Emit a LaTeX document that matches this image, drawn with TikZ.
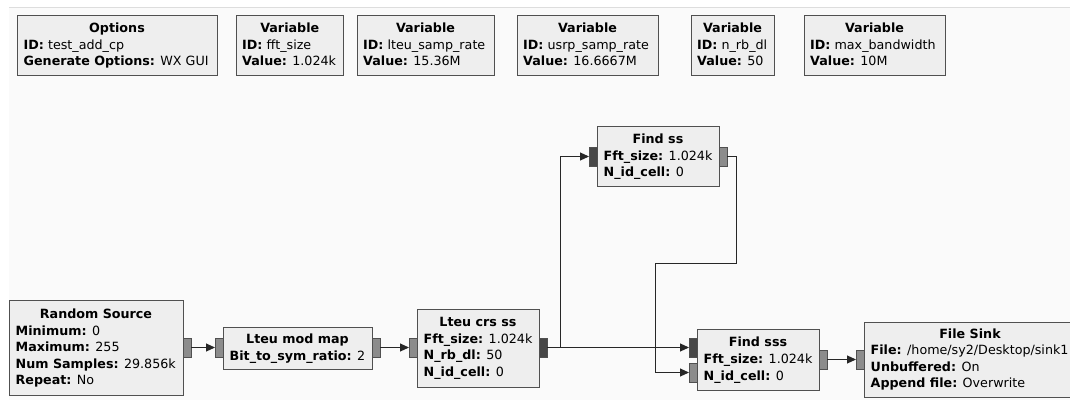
\documentclass[tikz,border=0pt]{standalone}
\usepackage{fontspec}
\setmainfont{DejaVu Sans}
\usetikzlibrary{arrows.meta}
\definecolor{canvas}{HTML}{FAFAFA}
\definecolor{blockfill}{HTML}{EEEEEE}
\definecolor{blockline}{HTML}{505050}
\definecolor{portdark}{HTML}{474747}
\definecolor{portlight}{HTML}{8C8C8C}
\definecolor{frameline}{HTML}{DDDDDD}
\newcommand{\kv}[2]{\textbf{#1:} #2}
\begin{document}
\begin{tikzpicture}[x=1pt,y=-1pt,
  blockbox/.style={draw=blockline, fill=blockfill, line width=1pt, inner sep=0pt, outer sep=0pt, anchor=north west},
  titletext/.style={font=\fontsize{12.7}{15}\selectfont\bfseries, anchor=base, inner sep=0pt},
  param/.style={font=\fontsize{12.7}{15}\selectfont, anchor=base west, inner sep=0pt},
  portbase/.style={draw=blockline, line width=0.8pt, inner sep=0pt, outer sep=0pt, minimum width=8pt, minimum height=19pt, anchor=north west},
  portd/.style={portbase, fill=portdark},
  portl/.style={portbase, fill=portlight},
  conn/.style={draw=black!85, line width=1pt, -{Triangle[length=9pt,width=8pt]}}
]
\useasboundingbox (0,0) rectangle (1070,399);
\clip (0,0) rectangle (1070,399);
\fill[white] (0,0) rectangle (1070,399);
\fill[canvas] (9,7) rectangle (1075,405);
\draw[frameline, line width=1pt] (9,7) -- (1075,7);

% Options
\node[blockbox, minimum width=200pt, minimum height=60.5pt] (opt) at (17,15) {};
\node[titletext] (opt-t) at (117,32.5) {Options};
\node[param] (opt-1) at (23.5,49.2) {\kv{ID}{test\_add\_cp}};
\node[param] (opt-2) at (23.5,65.8) {\kv{Generate Options}{WX GUI}};

% Variables
\node[blockbox, minimum width=107.5pt, minimum height=60.5pt] (v1) at (236,15) {};
\node[titletext] (v1-t) at (289.75,32.5) {Variable};
\node[param] (v1-1) at (242,49.2) {\kv{ID}{fft\_size}};
\node[param] (v1-2) at (242,65.8) {\kv{Value}{1.024k}};

\node[blockbox, minimum width=137pt, minimum height=60.5pt] (v2) at (357,15) {};
\node[titletext] (v2-t) at (425.5,32.5) {Variable};
\node[param] (v2-1) at (363,49.2) {\kv{ID}{lteu\_samp\_rate}};
\node[param] (v2-2) at (363,65.8) {\kv{Value}{15.36M}};

\node[blockbox, minimum width=141pt, minimum height=60.5pt] (v3) at (517,15) {};
\node[titletext] (v3-t) at (587.5,32.5) {Variable};
\node[param] (v3-1) at (523,49.2) {\kv{ID}{usrp\_samp\_rate}};
\node[param] (v3-2) at (523,65.8) {\kv{Value}{16.6667M}};

\node[blockbox, minimum width=83pt, minimum height=60.5pt] (v4) at (691,15) {};
\node[titletext] (v4-t) at (732.5,32.5) {Variable};
\node[param] (v4-1) at (697,49.2) {\kv{ID}{n\_rb\_dl}};
\node[param] (v4-2) at (697,65.8) {\kv{Value}{50}};

\node[blockbox, minimum width=141pt, minimum height=60.5pt] (v5) at (804,15) {};
\node[titletext] (v5-t) at (874.5,32.5) {Variable};
\node[param] (v5-1) at (810,49.2) {\kv{ID}{max\_bandwidth}};
\node[param] (v5-2) at (810,65.8) {\kv{Value}{10M}};

% Random Source
\node[blockbox, minimum width=174pt, minimum height=95pt] (rs) at (9,300) {};
\node[titletext] (rs-t) at (96,318.3) {Random Source};
\node[param] (rs-1) at (15.5,335) {\kv{Minimum}{0}};
\node[param] (rs-2) at (15.5,351.6) {\kv{Maximum}{255}};
\node[param] (rs-3) at (15.5,368.2) {\kv{Num Samples}{29.856k}};
\node[param] (rs-4) at (15.5,384.8) {\kv{Repeat}{No}};
\node[portl] (rs-o) at (183,338) {};

% Lteu mod map
\node[blockbox, minimum width=149pt, minimum height=42pt] (mm) at (223,327) {};
\node[titletext] (mm-t) at (297.5,343.5) {Lteu mod map};
\node[param] (mm-1) at (229.5,360) {\kv{Bit\_to\_sym\_ratio}{2}};
\node[portl] (mm-i) at (215,338) {};
\node[portl] (mm-o) at (372,338) {};

% Lteu crs ss
\node[blockbox, minimum width=122pt, minimum height=78pt] (crs) at (417,309) {};
\node[titletext] (crs-t) at (478,326) {Lteu crs ss};
\node[param] (crs-1) at (423.5,343) {\kv{Fft\_size}{1.024k}};
\node[param] (crs-2) at (423.5,359.6) {\kv{N\_rb\_dl}{50}};
\node[param] (crs-3) at (423.5,376.2) {\kv{N\_id\_cell}{0}};
\node[portl] (crs-i) at (409,338) {};
\node[portd] (crs-o) at (539,338) {};

% Find ss
\node[blockbox, minimum width=122pt, minimum height=60pt] (fss) at (597,126) {};
\node[titletext] (fss-t) at (658,143.3) {Find ss};
\node[param] (fss-1) at (603.5,160) {\kv{Fft\_size}{1.024k}};
\node[param] (fss-2) at (603.5,176.6) {\kv{N\_id\_cell}{0}};
\node[portd] (fss-i) at (589,147) {};
\node[portl] (fss-o) at (719,147) {};

% Find sss
\node[blockbox, minimum width=122pt, minimum height=61pt] (fsss) at (697,329) {};
\node[titletext] (fsss-t) at (758,346.5) {Find sss};
\node[param] (fsss-1) at (703.5,363.5) {\kv{Fft\_size}{1.024k}};
\node[param] (fsss-2) at (703.5,380) {\kv{N\_id\_cell}{0}};
\node[portd] (fsss-i0) at (689,338) {};
\node[portl] (fsss-i1) at (689,363) {};
\node[portl] (fsss-o) at (819,350) {};

% File Sink
\node[blockbox, minimum width=212pt, minimum height=75pt] (sink) at (864,322) {};
\node[titletext] (sink-t) at (970,338.3) {File Sink};
\node[param] (sink-1) at (870.5,354.6) {\kv{File}{/home/sy2/Desktop/sink1}};
\node[param] (sink-2) at (870.5,371.2) {\kv{Unbuffered}{On}};
\node[param] (sink-3) at (870.5,387.8) {\kv{Append file}{Overwrite}};
\node[portl] (sink-i) at (856,350) {};

% Connections
\coordinate (bend) at (655,263);
\draw[conn] (rs-o.east) -- (mm-i.west);
\draw[conn] (mm-o.east) -- (crs-i.west);
\draw[conn] (crs-o.east) -- (fsss-i0.west);
\draw[conn] (crs-o.east) -- ++(13,0) |- (fss-i.west);
\draw[conn] (fss-o.east) -- ++(9,0) |- (bend) |- (fsss-i1.west);
\draw[conn] (fsss-o.east) -- (sink-i.west);
\end{tikzpicture}
\end{document}
